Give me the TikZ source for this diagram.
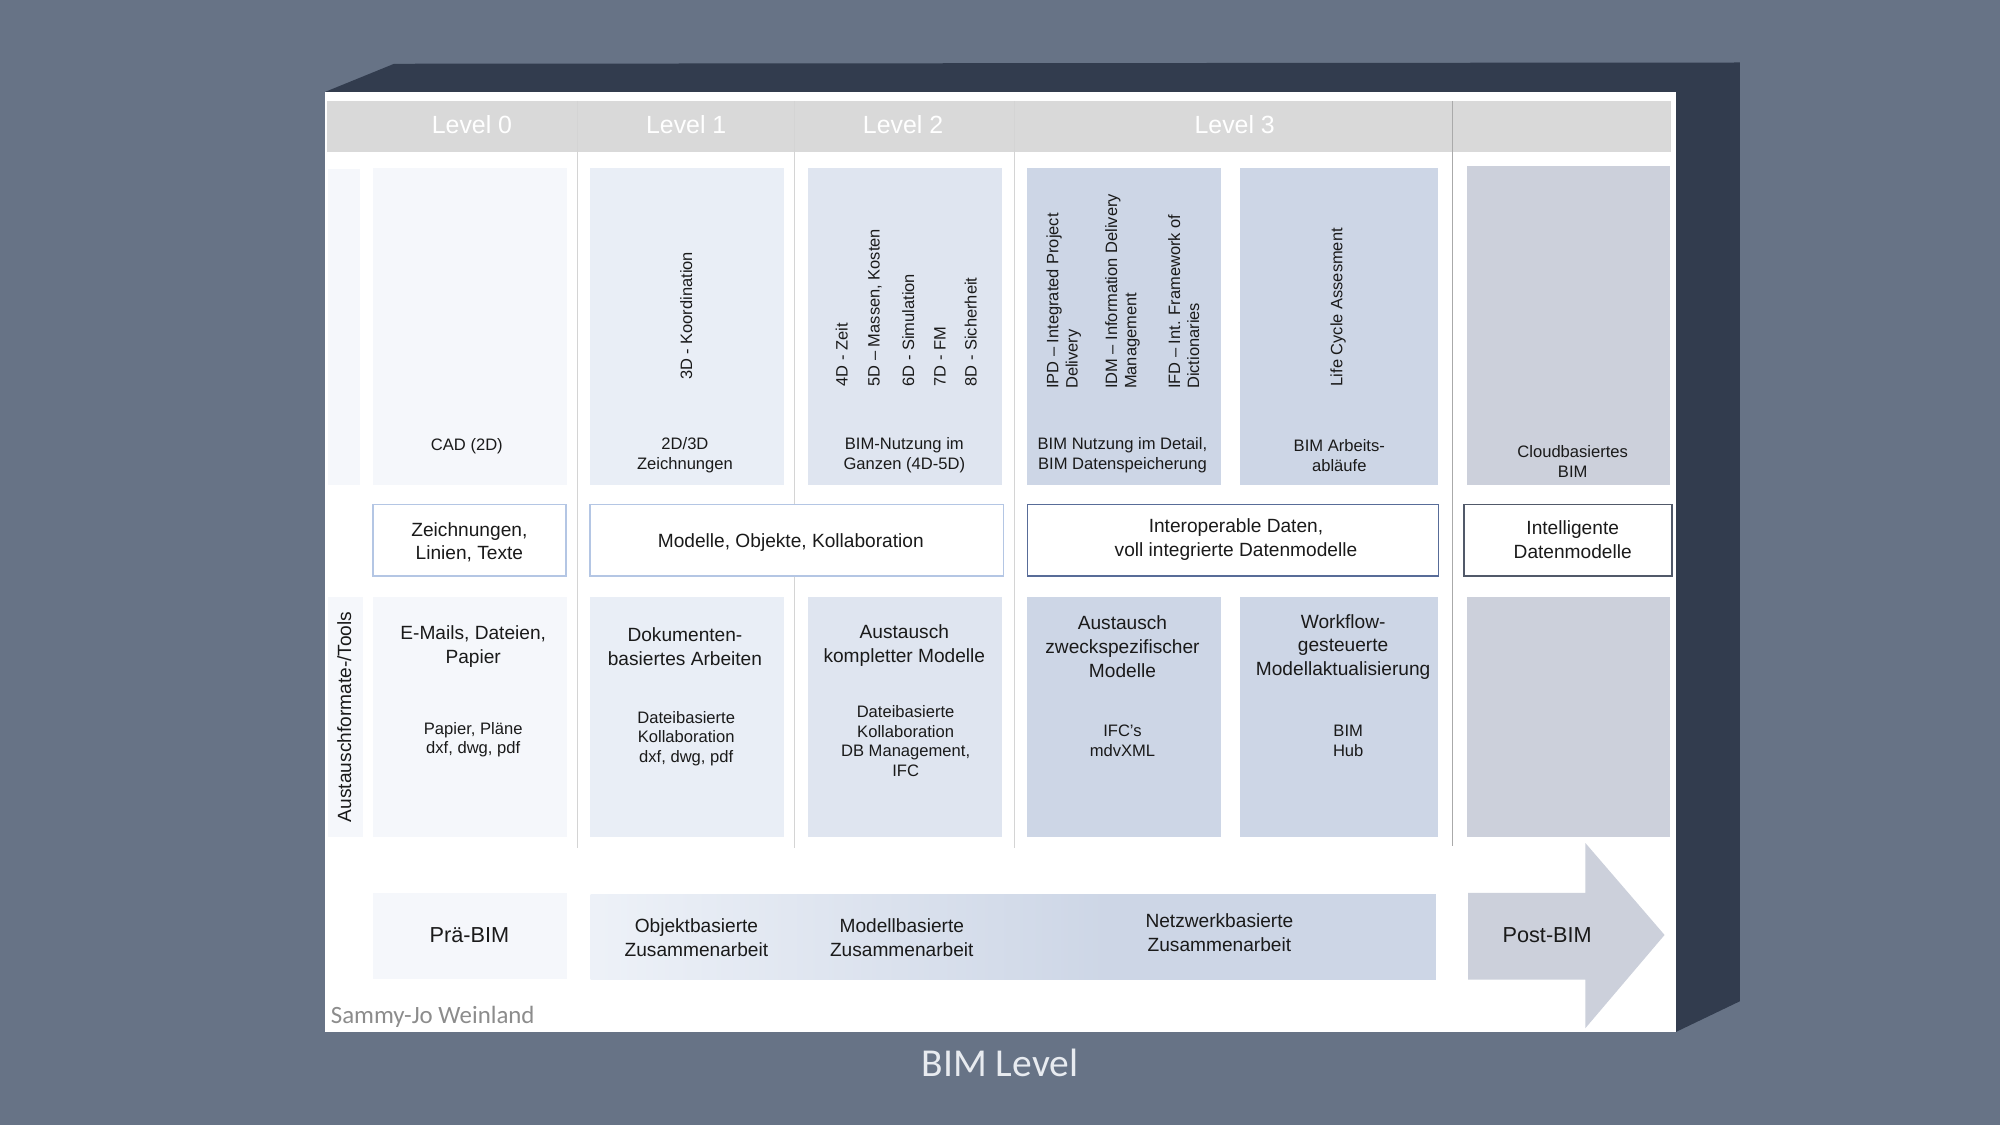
\documentclass[tikz,border=0pt]{standalone}
\usepackage{fontspec}
\setmainfont{Liberation Sans}
\newfontfamily\captionfont{Carlito}

\definecolor{slate}{RGB}{103,115,134}
\definecolor{boxdark}{RGB}{50,60,78}
\definecolor{headgrey}{RGB}{217,217,217}
\definecolor{sepgrey}{RGB}{212,212,212}
\definecolor{sepdark}{RGB}{170,170,170}
\definecolor{lvlzero}{RGB}{245,247,251}
\definecolor{lvlone}{RGB}{233,238,246}
\definecolor{lvltwo}{RGB}{223,229,240}
\definecolor{lvlthree}{RGB}{205,214,230}
\definecolor{postgrey}{RGB}{204,208,219}
\definecolor{lightrim}{RGB}{180,198,228}
\definecolor{darkrim}{RGB}{88,108,152}
\definecolor{inktext}{RGB}{26,26,26}

\tikzset{
  every picture/.style={line width=0.75pt},
  cell/.style={fill=#1, draw=none, inner sep=0pt, anchor=north west},
  rimbox/.style={fill=white, draw=#1, line width=1.3pt, inner sep=0pt, anchor=north west},
  small/.style={text=inktext, align=center, inner sep=0.75pt, font=\fontsize{13}{15.5}\selectfont},
  big/.style={text=inktext, align=center, inner sep=0.75pt, font=\fontsize{15}{18.5}\selectfont},
  upright/.style={text=inktext, align=left, inner sep=0.75pt, rotate=90, anchor=west, font=\fontsize{12.9}{15}\selectfont},
  levelhead/.style={text=white, inner sep=0.75pt, font=\fontsize{19.5}{22}\selectfont},
}

\begin{document}
\begin{tikzpicture}[x=1pt,y=1pt,yscale=-1,xscale=1]
    \useasboundingbox (0,0) rectangle (1568,882);
    \fill[slate] (0,0) rectangle (1568,882);

    %3D box: top and right faces
    \fill[boxdark] (255,72) -- (309,50) -- (1364,49) -- (1364,785) -- (1314,809) -- (1314,72) -- cycle;
    %front face
    \fill[white] (255,72) rectangle (1314,809);

    %header band
    \fill[headgrey] (256,79) rectangle (1310,119);
    \node[levelhead] (lvl0) at (370,98) {Level 0};
    \node[levelhead] (lvl1) at (538,98) {Level 1};
    \node[levelhead] (lvl2) at (708,98) {Level 2};
    \node[levelhead] (lvl3) at (968,98) {Level 3};

    %column separators
    \draw[sepgrey] (453,79) -- (453,665);
    \draw[sepgrey] (623,79) -- (623,665);
    \draw[sepgrey] (795,79) -- (795,665);
    \draw[sepdark] (1139,79) -- (1139,663);

    % Row 1: Anwendung
    \node[cell=lvlzero, minimum width=25, minimum height=248] (tabtop) at (257,132) {};
    \node[cell=lvlzero, minimum width=152, minimum height=249] (cadbox) at (292,131) {};
    \node[cell=lvlone, minimum width=152, minimum height=249] (zeichbox) at (462,131) {};
    \node[cell=lvltwo, minimum width=152, minimum height=249] (ganzbox) at (633,131) {};
    \node[cell=lvlthree, minimum width=152, minimum height=249] (detailbox) at (805,131) {};
    \node[cell=lvlthree, minimum width=155, minimum height=249] (ablaufbox) at (972,131) {};
    \node[cell=postgrey, minimum width=159, minimum height=250] (cloudbox) at (1150,130) {};

    % Text Node
    \node[small] (cad) at (366,350) {CAD (2D)};
    \node[small] (zeich) at (537,357) {2D/3D\\Zeichnungen};
    \node[small] (ganz) at (709,357) {BIM-Nutzung im\\Ganzen (4D-5D)};
    \node[small] (detail) at (880,357) {BIM Nutzung im Detail,\\BIM Datenspeicherung};
    \node[small] (ablauf) at (1050,357) {BIM Arbeits-\\abläufe};
    \node[small] (cloud) at (1233,362) {Cloudbasiertes\\BIM};

    % rotated Text Nodes
    \node[upright] (koord) at (538,299) {3D - Koordination};
    \node[upright] (zeit) at (660,304) {4D - Zeit};
    \node[upright] (kosten) at (686,304) {5D – Massen, Kosten};
    \node[upright] (simul) at (712,304) {6D - Simulation};
    \node[upright] (fm) at (737,304) {7D - FM};
    \node[upright] (sicher) at (761,304) {8D - Sicherheit};
    \node[upright] (ipd) at (834,306) {IPD – Integrated Project\\Delivery};
    \node[upright] (idm) at (880,306) {IDM – Information Delivery\\Management};
    \node[upright] (ifd) at (928,306) {IFD – Int. Framework of\\Dictionaries};
    \node[upright] (lca) at (1049,304) {Life Cycle Assesment};

    % Row 2: Daten
    \node[rimbox=lightrim, minimum width=151, minimum height=56] (linienbox) at (292,395) {};
    \node[rimbox=lightrim, minimum width=324, minimum height=56] (objektbox) at (462,395) {};
    \node[rimbox=darkrim, minimum width=322, minimum height=56] (interbox) at (805,395) {};
    \node[rimbox=boxdark!85, minimum width=163, minimum height=56] (intellbox) at (1147,395) {};
    \node[big] (linien) at (368,425) {Zeichnungen,\\Linien, Texte};
    \node[big] (objekt) at (620,425) {Modelle, Objekte, Kollaboration};
    \node[big] (inter) at (969,423) {Interoperable Daten,\\voll integrierte Datenmodelle};
    \node[big] (intell) at (1233,423) {Intelligente\\Datenmodelle};

    % Row 3: Austauschformate
    \node[cell=lvlzero, minimum width=27, minimum height=188] (tabtools) at (257,468) {};
    \node[cell=lvlzero, minimum width=152, minimum height=188] (mailbox) at (292,468) {};
    \node[cell=lvlone, minimum width=152, minimum height=188] (dokbox) at (462,468) {};
    \node[cell=lvltwo, minimum width=152, minimum height=188] (komplbox) at (633,468) {};
    \node[cell=lvlthree, minimum width=152, minimum height=188] (zweckbox) at (805,468) {};
    \node[cell=lvlthree, minimum width=155, minimum height=188] (workbox) at (972,468) {};
    \node[cell=postgrey, minimum width=159, minimum height=188] (leerbox) at (1150,468) {};

    % Text Node
    \node[big, rotate=90] (tools) at (270,562) {Austauschformate-/Tools};
    \node[big] (mail) at (371,507) {E-Mails, Dateien,\\Papier};
    \node[big] (dok) at (537,507) {Dokumenten-\\basiertes Arbeiten};
    \node[big] (kompl) at (709,506) {Austausch\\kompletter Modelle};
    \node[big] (zweck) at (880,507) {Austausch\\zweckspezifischer\\Modelle};
    \node[big] (work) at (1053,507) {Workflow-\\gesteuerte\\Modellaktualisierung};
    \node[small] (plaene) at (371,580) {Papier, Pläne\\dxf, dwg, pdf};
    \node[small] (dateikoll) at (538,579) {Dateibasierte\\Kollaboration\\dxf, dwg, pdf};
    \node[small] (dbman) at (710,581) {Dateibasierte\\Kollaboration\\DB Management,\\IFC};
    \node[small] (ifcs) at (880,581) {IFC's\\mdvXML};
    \node[small] (hub) at (1057,581) {BIM\\Hub};

    % Row 4: Zusammenarbeit
    \node[cell=lvlzero, minimum width=152, minimum height=67] (praebox) at (292,700) {};
    \shade[left color=lvlone!80!white, right color=lvlthree] (463,701) rectangle (868,768);
    \fill[lvlthree] (867,701) rectangle (1126,768);
    \fill[postgrey] (1151,700) -- (1243,700) -- (1243,661) -- (1305,733) -- (1243,806) -- (1243,768) -- (1151,768) -- cycle;
    \node[big, font=\fontsize{17}{20}\selectfont] (prae) at (368,733) {Prä-BIM};
    \node[big] (objbas) at (546,735) {Objektbasierte\\Zusammenarbeit};
    \node[big] (modbas) at (707,735) {Modellbasierte\\Zusammenarbeit};
    \node[big] (netzbas) at (956,731) {Netzwerkbasierte\\Zusammenarbeit};
    \node[big, font=\fontsize{17}{20}\selectfont] (post) at (1213,733) {Post-BIM};

    % captions
    \node[anchor=west, inner sep=0pt, text=black!45, font=\captionfont\fontsize{19.5}{22}\selectfont] (autor) at (259,797) {Sammy-Jo Weinland};
    \node[inner sep=0pt, text={rgb,255:red,232;green,235;blue,240}, font=\captionfont\fontsize{31}{36}\selectfont] (titel) at (784,833) {BIM Level};

\end{tikzpicture}
\end{document}
